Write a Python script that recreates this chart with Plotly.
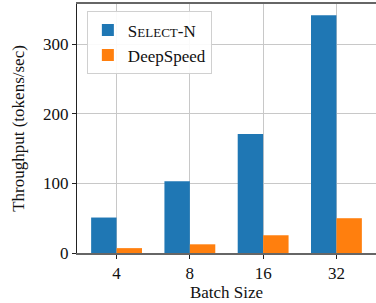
import plotly.graph_objects as go

batch_sizes = ["4", "8", "16", "32"]
select_n = [51, 103, 171, 342]
deepspeed = [7, 12.5, 25.5, 50]

font_family = "Liberation Serif, DejaVu Serif, serif"

fig = go.Figure()
fig.add_trace(go.Bar(x=batch_sizes, y=select_n,
                     name="S<span style='font-size:13px'>ELECT</span>-N",
                     marker=dict(color="#1f77b4", line=dict(width=0))))
fig.add_trace(go.Bar(x=batch_sizes, y=deepspeed, name="DeepSpeed",
                     marker=dict(color="#ff7f0e", line=dict(width=0))))

fig.update_layout(
    width=376, height=303,
    margin=dict(l=77, r=0, t=4, b=50, autoexpand=False),
    paper_bgcolor="white", plot_bgcolor="white",
    font=dict(family=font_family, size=17, color="#111111"),
    barmode="group", bargap=0.306, bargroupgap=0,
    showlegend=True,
    legend=dict(x=0.033, y=0.97, xanchor="left", yanchor="top",
                bgcolor="rgba(255,255,255,0.9)", bordercolor="#d0d0d0", borderwidth=1,
                font=dict(size=17), itemwidth=30, tracegroupgap=0),
    xaxis=dict(
        type="category", range=[-0.54, 3.54],
        showgrid=True, gridcolor="#c8c8c8", gridwidth=1,
        showline=True, linecolor="#666666", linewidth=1.5, mirror=True,
        ticks="outside", ticklen=4, tickcolor="#222222",
        title=dict(text="Batch Size", standoff=4, font=dict(size=17)),
        tickfont=dict(size=17),
    ),
    yaxis=dict(
        range=[0, 358], tickvals=[0, 100, 200, 300],
        showgrid=True, gridcolor="#c8c8c8", gridwidth=1,
        zeroline=False,
        showline=True, linecolor="#222222", linewidth=1,
        ticks="outside", ticklen=4, tickcolor="#222222",
        title=dict(text="Throughput (tokens/sec)", standoff=14, font=dict(size=17)),
        tickfont=dict(size=17),
    ),
)

fig.write_html("out.html", config={"displayModeBar": False},
               post_script="document.body.style.margin='0';")
